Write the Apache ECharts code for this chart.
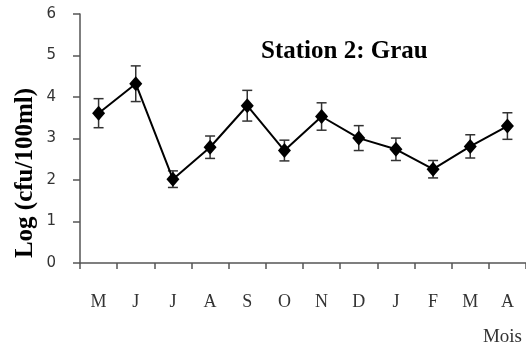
<!DOCTYPE html>
<html><head><meta charset="utf-8">
<script src="https://cdn.jsdelivr.net/npm/echarts@6/dist/echarts.min.js"></script>
<style>html,body{margin:0;padding:0;background:#fff}#c{width:526px;height:349px}</style>
</head><body><div id="c"></div>
<script>
const months = ['M','J','J','A','S','O','N','D','J','F','M','A'];
const values = [3.61, 4.32, 2.02, 2.79, 3.79, 2.71, 3.53, 3.01, 2.74, 2.26, 2.81, 3.3];
const errors = [0.35, 0.43, 0.2, 0.27, 0.37, 0.25, 0.33, 0.3, 0.27, 0.21, 0.28, 0.32];
const yTicks = [0, 1, 2, 3, 4, 5, 6];

const chart = echarts.init(document.getElementById('c'), null, {renderer: 'canvas'});
const errData = values.map((v, i) => [i, v - errors[i], v + errors[i]]);
chart.setOption({
  animation: false,
  backgroundColor: '#fff',
  grid: {left: 80, top: 14, bottom: 86, right: -7, containLabel: false},
  title: {
    text: 'Station 2: Grau', left: 256, top: 34,
    textStyle: {fontFamily: 'Liberation Serif', fontWeight: 'bold', fontSize: 25, color: '#000'}
  },
  xAxis: {
    type: 'category', data: months, boundaryGap: true,
    axisLine: {lineStyle: {color: '#555', width: 1.5}},
    axisTick: {show: true, length: 6, lineStyle: {color: '#555', width: 1.5}},
    axisLabel: {margin: 30, fontFamily: 'Liberation Serif', fontSize: 18, color: '#333'}
  },
  yAxis: {
    type: 'value', min: yTicks[0], max: yTicks[yTicks.length - 1], interval: 1,
    splitLine: {show: false},
    axisLine: {show: true, lineStyle: {color: '#555', width: 1.5}},
    axisTick: {show: true, length: 7, lineStyle: {color: '#555', width: 1.5}},
    axisLabel: {margin: 24, fontFamily: 'DejaVu Sans', fontSize: 15, color: '#333'}
  },
  graphic: [
    {type: 'text', x: 26, y: 173, rotation: Math.PI / 2,
     style: {text: 'Log (cfu/100ml)', x: 0, y: 0, align: 'center', verticalAlign: 'middle',
       font: 'bold 25px "Liberation Serif"', fill: '#000'}},
    {type: 'text', right: 4, top: 328,
     style: {text: 'Mois', font: '19px "Liberation Serif"', fill: '#333'}}
  ],
  series: [
    {
      type: 'custom',
      data: errData,
      z: 1,
      renderItem: function (params, api) {
        const x = api.value(0);
        const lo = api.coord([x, api.value(1)]);
        const hi = api.coord([x, api.value(2)]);
        const hw = 5;
        const st = {stroke: '#333', lineWidth: 1.5};
        return {type: 'group', children: [
          {type: 'line', shape: {x1: lo[0], y1: lo[1], x2: hi[0], y2: hi[1]}, style: st},
          {type: 'line', shape: {x1: lo[0] - hw, y1: lo[1], x2: lo[0] + hw, y2: lo[1]}, style: st},
          {type: 'line', shape: {x1: hi[0] - hw, y1: hi[1], x2: hi[0] + hw, y2: hi[1]}, style: st}
        ]};
      }
    },
    {
      type: 'line', data: values, z: 3,
      symbol: 'diamond', symbolSize: [13, 15],
      itemStyle: {color: '#000'},
      lineStyle: {color: '#000', width: 2}
    }
  ]
});
</script></body></html>
